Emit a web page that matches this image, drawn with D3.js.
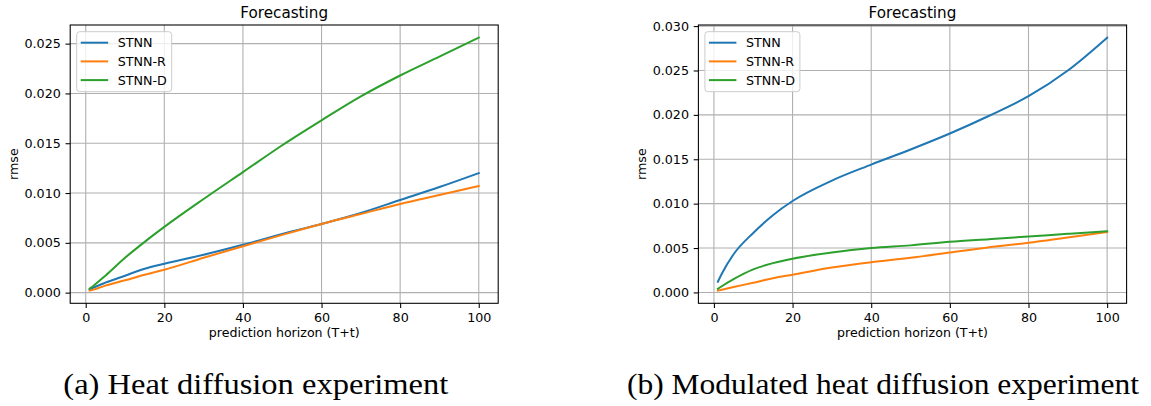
<!DOCTYPE html>
<html lang="en">
<head>
    <meta charset="UTF-8">
    <title>Forecasting</title>
    <script src="https://d3js.org/d3.v7.min.js" charset="utf-8"></script>
    <style>
        body { margin: 0; background: #fff; }
        svg text { fill: #000; }
    </style>
</head>
<body>
    <svg></svg>
    <script>
        // prediction horizon samples
        var horizon = [1, 2, 5, 10, 15, 20, 30, 40, 50, 60, 70, 80, 90, 100];
        var seriesNames = ["STNN", "STNN-R", "STNN-D"];
        var colors = ["#1f77b4", "#ff7f0e", "#2ca02c"];
        var xTicks = [0, 20, 40, 60, 80, 100];

        // (a) heat diffusion
        var heatSTNN  = [0.0003, 0.0005, 0.0010, 0.0017, 0.0024, 0.0029, 0.0038, 0.0048, 0.0059, 0.0069, 0.0080, 0.0093, 0.0106, 0.0120];
        var heatSTNNR = [0.0002, 0.0003, 0.0007, 0.00124, 0.0018, 0.0023, 0.0035, 0.00466, 0.0058, 0.0069, 0.0079, 0.0089, 0.0098, 0.0107];
        var heatSTNND = [0.0004, 0.0007, 0.0017, 0.0035, 0.0051, 0.0066, 0.0094, 0.0121, 0.0148, 0.0173, 0.0197, 0.0218, 0.0237, 0.0256];
        var heatYTicks = [0, 0.005, 0.010, 0.015, 0.020, 0.025];

        // (b) modulated heat diffusion
        var modSTNN  = [0.0012, 0.0021, 0.0043, 0.0067, 0.0087, 0.0103, 0.0126, 0.0144, 0.0161, 0.0179, 0.0199, 0.0221, 0.0250, 0.0287];
        var modSTNNR = [0.0002, 0.0003, 0.0006, 0.0011, 0.0016, 0.0020, 0.0028, 0.0034, 0.0039, 0.0045, 0.0051, 0.0056, 0.0062, 0.0068];
        var modSTNND = [0.0004, 0.0007, 0.0015, 0.0026, 0.0033, 0.0038, 0.0045, 0.0050, 0.0053, 0.0057, 0.0060, 0.0063, 0.0066, 0.0069];
        var modYTicks = [0, 0.005, 0.010, 0.015, 0.020, 0.025, 0.030];

        var W = 1151, H = 406;
        var sans = "'DejaVu Sans', sans-serif";
        var serif = "'URW Palladio L', Palatino, 'Liberation Serif', 'DejaVu Serif', serif";
        var svg = d3.select("svg").attr("width", W).attr("height", H);

        // matplotlib style 5% margin on data limits
        function padded(ext) {
            var m = (ext[1] - ext[0]) * 0.05;
            return [ext[0] - m, ext[1] + m];
        }

        function drawPanel(cfg) {
            var g = svg.append("g").style("font-family", sans);
            var left = cfg.left, right = cfg.right, top = 25, bottom = 303.3;

            var allVals = d3.merge(cfg.series);
            var x = d3.scaleLinear().domain(padded(d3.extent(horizon))).range([left, right]);
            var y = d3.scaleLinear().domain(padded(d3.extent(allVals))).range([bottom, top]);

            // grid
            g.append("g").selectAll("line").data(cfg.xTicks).enter().append("line")
                .attr("x1", function(d){return x(d)}).attr("x2", function(d){return x(d)})
                .attr("y1", top).attr("y2", bottom)
                .attr("stroke", "#b0b0b0").attr("stroke-width", 1.1);
            g.append("g").selectAll("line").data(cfg.yTicks).enter().append("line")
                .attr("y1", function(d){return y(d)}).attr("y2", function(d){return y(d)})
                .attr("x1", left).attr("x2", right)
                .attr("stroke", "#b0b0b0").attr("stroke-width", 1.1);

            // lines
            var line = d3.line()
                .x(function(d, i){return x(horizon[i])})
                .y(function(d){return y(d)})
                .curve(d3.curveMonotoneX);
            cfg.series.forEach(function(s, i){
                g.append("path").datum(s)
                    .attr("d", line)
                    .attr("fill", "none")
                    .attr("stroke", colors[i])
                    .attr("stroke-width", 2)
                    .attr("stroke-linecap", "square");
            });

            // axes
            var xAxis = d3.axisBottom(x).tickValues(cfg.xTicks).tickSize(4.7).tickPadding(4.7)
                .tickFormat(d3.format("d"));
            var yAxis = d3.axisLeft(y).tickValues(cfg.yTicks).tickSize(4.7).tickPadding(4.7)
                .tickFormat(d3.format(".3f"));
            var gx = g.append("g").attr("transform", "translate(0," + bottom + ")").call(xAxis);
            var gy = g.append("g").attr("transform", "translate(" + left + ",0)").call(yAxis);
            [gx, gy].forEach(function(a){
                a.attr("font-family", null).attr("font-size", null);
                a.select(".domain").remove();
                a.selectAll("line").attr("stroke", "#000").attr("stroke-width", 1.07);
                a.selectAll("text").style("font-size", "12.7px").style("font-family", sans).attr("fill", "#000");
            });

            // spines
            g.append("rect")
                .attr("x", left).attr("y", top)
                .attr("width", right - left).attr("height", bottom - top)
                .attr("fill", "none").attr("stroke", "#000").attr("stroke-width", 1.07);

            // title and labels
            g.append("text").attr("x", (left + right) / 2).attr("y", 18)
                .attr("text-anchor", "middle").style("font-size", "15.2px").text("Forecasting");
            g.append("text").attr("x", (left + right) / 2).attr("y", 337)
                .attr("text-anchor", "middle").style("font-size", "12.6px").text("prediction horizon (T+t)");
            g.append("text")
                .attr("transform", "translate(" + cfg.ylabelX + "," + ((top + bottom) / 2) + ") rotate(-90)")
                .attr("text-anchor", "middle").attr("dy", "0.35em")
                .style("font-size", "12.7px").text("rmse");

            // legend
            var lx = left + 6.5, ly = 31.7;
            g.append("rect").attr("x", lx).attr("y", ly).attr("width", 95).attr("height", 60)
                .attr("rx", 3).attr("fill", "#fff").attr("fill-opacity", 0.8)
                .attr("stroke", "#cccccc").attr("stroke-width", 1);
            var rows = g.append("g").selectAll("g").data(seriesNames).enter().append("g")
                .attr("transform", function(d, i){return "translate(" + (lx + 4) + "," + (42.7 + i * 18.7) + ")"});
            rows.append("line").attr("x1", 0).attr("x2", 27.5)
                .attr("stroke", function(d, i){return colors[i]}).attr("stroke-width", 2);
            rows.append("text").attr("x", 37).attr("dy", "0.36em")
                .style("font-size", "12.7px").text(function(d){return d});

            // caption
            svg.append("text").attr("x", cfg.capX).attr("y", 394)
                .style("font-family", serif)
                .style("font-size", "29px")
                .attr("textLength", cfg.capW).attr("lengthAdjust", "spacingAndGlyphs")
                .text(cfg.caption);
        }

        drawPanel({
            left: 70.2, right: 498.2,
            series: [heatSTNN, heatSTNNR, heatSTNND],
            xTicks: xTicks, yTicks: heatYTicks,
            ylabelX: 13.3,
            caption: "(a) Heat diffusion experiment", capX: 63.3, capW: 385
        });
        drawPanel({
            left: 698.4, right: 1126.6,
            series: [modSTNN, modSTNNR, modSTNND],
            xTicks: xTicks, yTicks: modYTicks,
            ylabelX: 641.5,
            caption: "(b) Modulated heat diffusion experiment", capX: 627, capW: 512
        });
    </script>
</body>
</html>
